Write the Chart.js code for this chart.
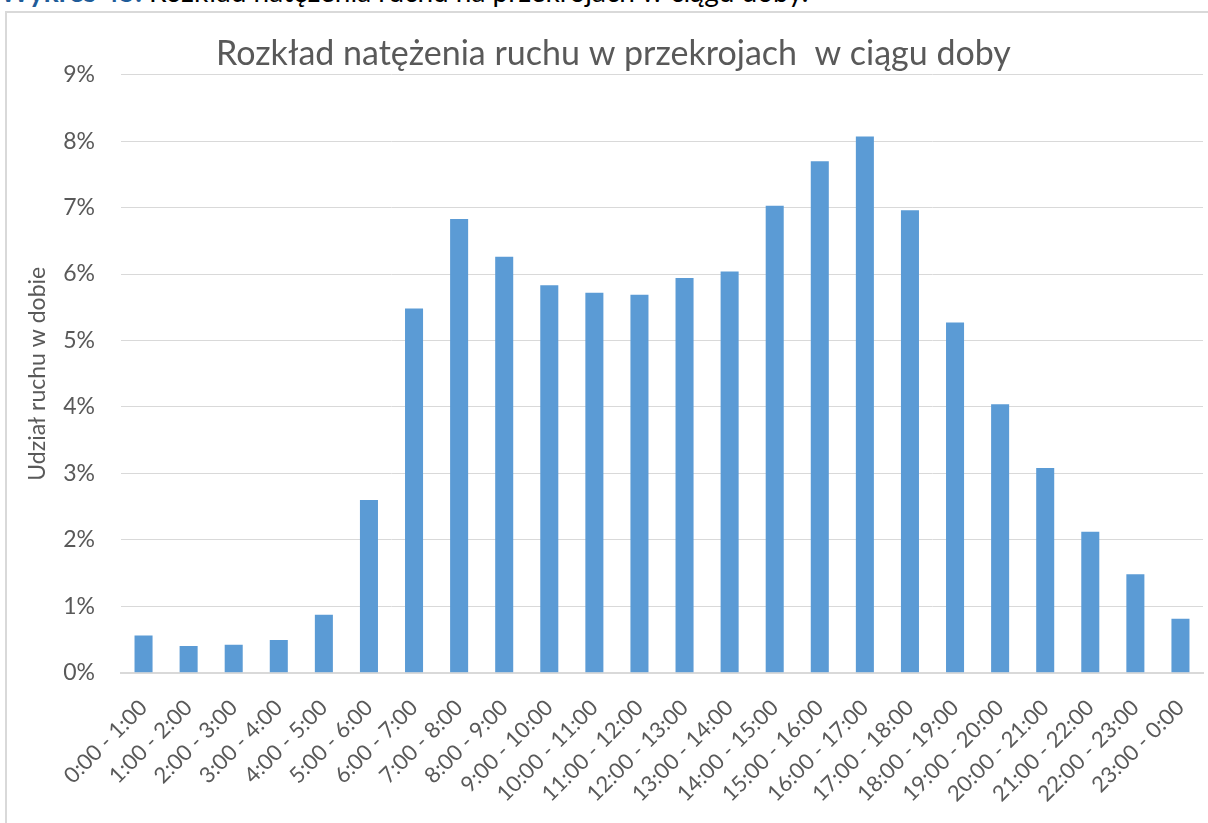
<!DOCTYPE html>
<html lang="pl">
<head>
  <meta charset="UTF-8">
  <title>Rozkład natężenia ruchu w przekrojach w ciągu doby</title>
  <script src="https://cdn.jsdelivr.net/npm/chart.js"></script>
  <style>
    body {
      margin: 0;
      background: #fff;
      font-family: Lato, sans-serif;
      overflow: hidden;
    }
    #caption {
      position: absolute;
      left: 0;
      top: -25px;
      font-size: 28px;
      line-height: 1.2;
      white-space: nowrap;
      color: #000;
    }
    #caption b {
      color: #1f5c99;
    }
    #frame {
      position: absolute;
      left: 5px;
      top: 11px;
      width: 1250px;
      height: 900px;
      border: 2px solid #d9d9d9;
      pointer-events: none;
    }
    #wrap {
      position: absolute;
      left: 0;
      top: 0;
      width: 1208px;
      height: 823px;
    }
  </style>
</head>
<body>

<div id="caption"><b>Wykres 45.</b> Rozkład natężenia ruchu na przekrojach w ciągu doby.</div>
<div id="frame"></div>
<div id="wrap"><canvas id="myChart" width="1208" height="823"></canvas></div>

<script>
// przedziały godzinowe
const hours = [
  '0:00 - 1:00', '1:00 - 2:00', '2:00 - 3:00', '3:00 - 4:00', '4:00 - 5:00',
  '5:00 - 6:00', '6:00 - 7:00', '7:00 - 8:00', '8:00 - 9:00', '9:00 - 10:00',
  '10:00 - 11:00', '11:00 - 12:00', '12:00 - 13:00', '13:00 - 14:00', '14:00 - 15:00',
  '15:00 - 16:00', '16:00 - 17:00', '17:00 - 18:00', '18:00 - 19:00', '19:00 - 20:00',
  '20:00 - 21:00', '21:00 - 22:00', '22:00 - 23:00', '23:00 - 0:00'
];

// udział ruchu w dobie [%]
const share = [
  0.56, 0.40, 0.42, 0.49, 0.87, 2.60, 5.48, 6.83, 6.26, 5.83, 5.72, 5.69,
  5.94, 6.04, 7.03, 7.70, 8.07, 6.96, 5.27, 4.04, 3.08, 2.12, 1.48, 0.81
];

const grey = '#595959';

const ctx = document.getElementById('myChart').getContext('2d');
const chart = new Chart(ctx, {
  type: 'bar',
  data: {
    labels: hours,
    datasets: [{
      label: 'Udział ruchu w dobie',
      data: share,
      backgroundColor: '#5b9bd5',
      categoryPercentage: 1,
      barPercentage: 0.4
    }]
  },
  options: {
    responsive: false,
    animation: false,
    layout: {
      padding: { left: 24, right: 5, top: 0, bottom: 2 }
    },
    scales: {
      x: {
        // ostatnia etykieta nie powinna zwężać obszaru wykresu
        afterFit: s => { s.paddingRight = 0; },
        grid: { display: false },
        border: { color: '#d9d9d9', width: 2 },
        ticks: {
          color: grey,
          font: { family: 'Lato', size: 22 },
          minRotation: 45,
          maxRotation: 45,
          autoSkip: false,
          padding: 14
        }
      },
      y: {
        min: 0,
        max: 9,
        afterFit: s => { s.width = 97; },
        grid: { color: '#d9d9d9', lineWidth: 1, drawTicks: false },
        border: { display: false },
        title: {
          display: true,
          text: 'Udział ruchu w dobie',
          color: grey,
          font: { family: 'Lato', size: 23 },
          padding: { top: 0, bottom: 0 }
        },
        ticks: {
          stepSize: 1,
          color: grey,
          font: { family: 'Lato', size: 23 },
          padding: 26,
          callback: v => v + '%'
        }
      }
    },
    plugins: {
      legend: { display: false },
      tooltip: { enabled: false },
      title: {
        display: true,
        text: 'Rozkład natężenia ruchu w przekrojach  w ciągu doby',
        color: grey,
        font: { family: 'Lato', size: 34, weight: 'normal' },
        padding: { top: 34, bottom: 0 }
      }
    }
  }
});
</script>

</body>
</html>
